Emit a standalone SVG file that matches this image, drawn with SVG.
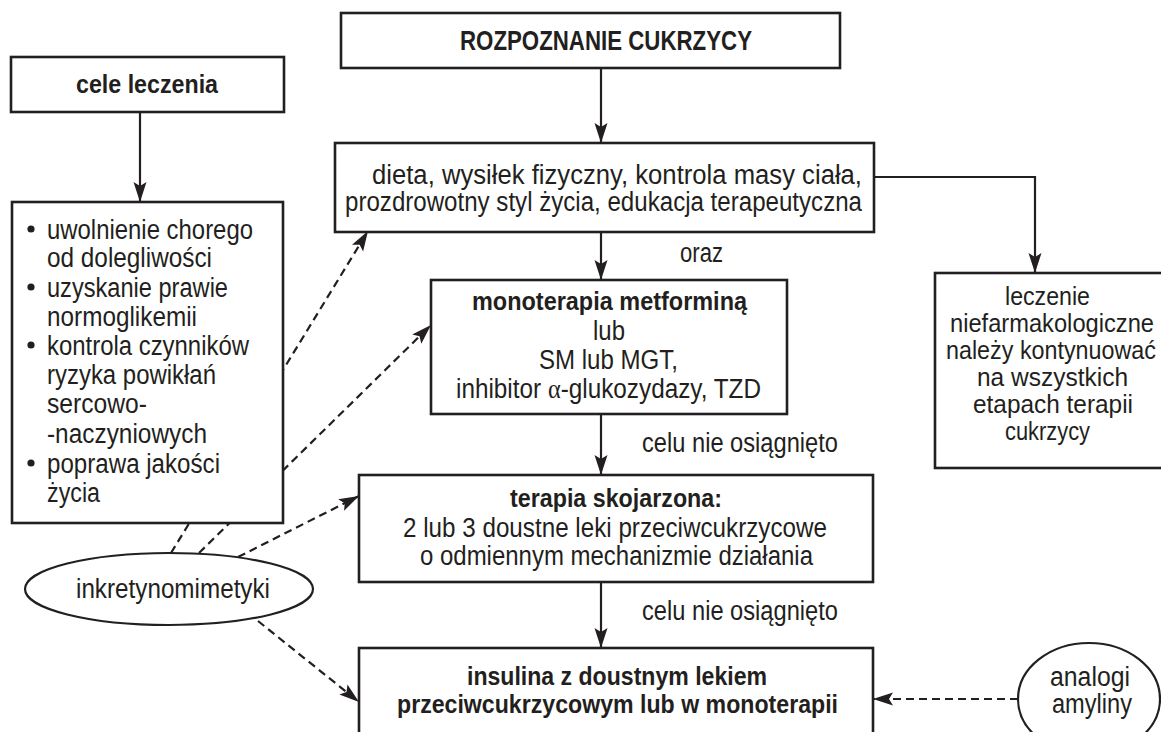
<svg xmlns="http://www.w3.org/2000/svg" width="1161" height="732" viewBox="0 0 1161 732">
<defs>
<style>
.box{fill:#fff;stroke:#231f20;stroke-width:2.6}
.ell{fill:#fff;stroke:#231f20;stroke-width:2.2}
.ln{fill:none;stroke:#231f20;stroke-width:2.2}
.dash{fill:none;stroke:#231f20;stroke-width:2.2;stroke-dasharray:8 5}
text{font-family:'Liberation Sans Narrow','Liberation Sans',Arial,sans-serif;fill:#231f20;font-size:27px}
.b{font-weight:bold;font-size:26px}
.s{font-size:25px}
.bul{fill:#231f20}
</style>
<marker id="ah" markerUnits="userSpaceOnUse" markerWidth="22" markerHeight="14" refX="20" refY="6.5" orient="auto" viewBox="0 0 22 14">
<path d="M0,0 L20,6.5 L0,13 L4,6.5 Z" fill="#231f20"/>
</marker>
</defs>
<rect width="1161" height="732" fill="#fff"/>

<g id="connectors">
<line class="ln" x1="140" y1="112" x2="140" y2="202" marker-end="url(#ah)"/>
<line class="ln" x1="601" y1="68" x2="601" y2="143" marker-end="url(#ah)"/>
<line class="ln" x1="601" y1="232" x2="601" y2="280" marker-end="url(#ah)"/>
<line class="ln" x1="601" y1="414" x2="601" y2="475" marker-end="url(#ah)"/>
<line class="ln" x1="601" y1="582" x2="601" y2="648" marker-end="url(#ah)"/>
<path class="ln" d="M874,177 H1035 V273" marker-end="url(#ah)"/>
<line class="dash" x1="171" y1="553" x2="368" y2="231" marker-end="url(#ah)"/>
<line class="dash" x1="199" y1="553" x2="431" y2="325" marker-end="url(#ah)"/>
<line class="dash" x1="238" y1="557" x2="359" y2="496" marker-end="url(#ah)"/>
<line class="dash" x1="258" y1="621" x2="359" y2="702" marker-end="url(#ah)"/>
<line class="dash" x1="1018" y1="699" x2="873" y2="699" marker-end="url(#ah)"/>
</g>

<g id="rozpoznanie">
<rect class="box" x="341" y="13" width="499" height="55"/>
<text class="b" x="460" y="50" style="font-size:28px" textLength="292" lengthAdjust="spacingAndGlyphs">ROZPOZNANIE CUKRZYCY</text>
</g>

<g id="cele">
<rect class="box" x="11" y="57" width="273" height="55"/>
<text class="b" x="76" y="93" textLength="142" lengthAdjust="spacingAndGlyphs">cele leczenia</text>
</g>

<g id="lista">
<rect class="box" x="12" y="202" width="271" height="321"/>
<circle class="bul" cx="31" cy="229" r="3.6"/>
<circle class="bul" cx="31" cy="287" r="3.6"/>
<circle class="bul" cx="31" cy="345" r="3.6"/>
<circle class="bul" cx="31" cy="463" r="3.6"/>
<text x="47" y="239" textLength="206" lengthAdjust="spacingAndGlyphs">uwolnienie chorego</text>
<text x="47" y="267" textLength="165" lengthAdjust="spacingAndGlyphs">od dolegliwości</text>
<text x="47" y="297" textLength="181" lengthAdjust="spacingAndGlyphs">uzyskanie prawie</text>
<text x="47" y="326" textLength="150" lengthAdjust="spacingAndGlyphs">normoglikemii</text>
<text x="47" y="355" textLength="202" lengthAdjust="spacingAndGlyphs">kontrola czynników</text>
<text x="47" y="384" textLength="169" lengthAdjust="spacingAndGlyphs">ryzyka powikłań</text>
<text x="47" y="413" textLength="100" lengthAdjust="spacingAndGlyphs">sercowo-</text>
<text x="47" y="443" textLength="160" lengthAdjust="spacingAndGlyphs">-naczyniowych</text>
<text x="47" y="473" textLength="173" lengthAdjust="spacingAndGlyphs">poprawa jakości</text>
<text x="47" y="502" textLength="53" lengthAdjust="spacingAndGlyphs">życia</text>
</g>

<g id="dieta">
<rect class="box" x="335" y="143" width="539" height="89"/>
<text x="372" y="184" textLength="490" lengthAdjust="spacingAndGlyphs">dieta, wysiłek fizyczny, kontrola masy ciała,</text>
<text x="345" y="211" textLength="517" lengthAdjust="spacingAndGlyphs">prozdrowotny styl życia, edukacja terapeutyczna</text>
</g>

<g id="oraz-label">
<text x="680" y="262" textLength="43" lengthAdjust="spacingAndGlyphs">oraz</text>
</g>

<g id="leczenie">
<rect class="box" x="935" y="273" width="240" height="195"/>
<text class="s" x="1005" y="305" textLength="85" lengthAdjust="spacingAndGlyphs">leczenie</text>
<text class="s" x="950" y="332" textLength="204" lengthAdjust="spacingAndGlyphs">niefarmakologiczne</text>
<text class="s" x="946" y="359" textLength="210" lengthAdjust="spacingAndGlyphs">należy kontynuować</text>
<text class="s" x="977" y="386" textLength="151" lengthAdjust="spacingAndGlyphs">na wszystkich</text>
<text class="s" x="973" y="413" textLength="160" lengthAdjust="spacingAndGlyphs">etapach terapii</text>
<text class="s" x="1005" y="440" textLength="85" lengthAdjust="spacingAndGlyphs">cukrzycy</text>
</g>

<g id="monoterapia">
<rect class="box" x="431" y="280" width="356" height="134"/>
<text class="b" x="472" y="310" textLength="275" lengthAdjust="spacingAndGlyphs">monoterapia metforminą</text>
<text x="593" y="340" textLength="32" lengthAdjust="spacingAndGlyphs">lub</text>
<text x="539" y="369" textLength="139" lengthAdjust="spacingAndGlyphs">SM lub MGT,</text>
<text x="456" y="398" textLength="305" lengthAdjust="spacingAndGlyphs">inhibitor <tspan style="font-family:'Liberation Serif',serif">α</tspan>-glukozydazy, TZD</text>
</g>

<g id="label-celu-1">
<text x="642" y="452" textLength="196" lengthAdjust="spacingAndGlyphs">celu nie osiągnięto</text>
</g>

<g id="skojarzona">
<rect class="box" x="359" y="475" width="514" height="107"/>
<text class="b" x="510" y="507" textLength="212" lengthAdjust="spacingAndGlyphs">terapia skojarzona:</text>
<text x="403" y="537" textLength="424" lengthAdjust="spacingAndGlyphs">2 lub 3 doustne leki przeciwcukrzycowe</text>
<text x="420" y="565" textLength="393" lengthAdjust="spacingAndGlyphs">o odmiennym mechanizmie działania</text>
</g>

<g id="label-celu-2">
<text x="642" y="620" textLength="196" lengthAdjust="spacingAndGlyphs">celu nie osiągnięto</text>
</g>

<g id="insulina">
<rect class="box" x="359" y="648" width="514" height="100"/>
<text class="b" x="467" y="685" textLength="300" lengthAdjust="spacingAndGlyphs">insulina z doustnym lekiem</text>
<text class="b" x="397" y="713" textLength="441" lengthAdjust="spacingAndGlyphs">przeciwcukrzycowym lub w monoterapii</text>
</g>

<g id="inkretynomimetyki">
<ellipse class="ell" cx="169" cy="589" rx="144" ry="36"/>
<text x="76" y="598" textLength="194" lengthAdjust="spacingAndGlyphs">inkretynomimetyki</text>
</g>

<g id="analogi">
<ellipse class="ell" cx="1089" cy="699" rx="71" ry="56"/>
<text x="1050" y="686" textLength="80" lengthAdjust="spacingAndGlyphs">analogi</text>
<text x="1052" y="713" textLength="80" lengthAdjust="spacingAndGlyphs">amyliny</text>
</g>
</svg>
